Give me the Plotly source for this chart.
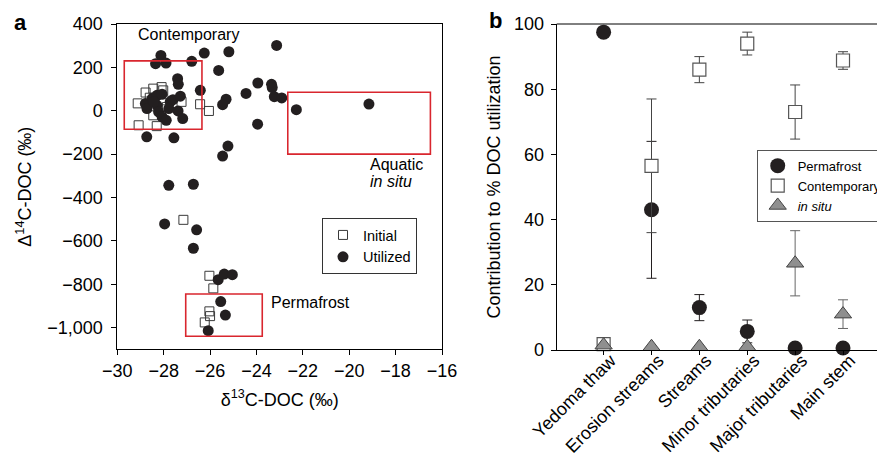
import plotly.graph_objects as go

# ---------------- Panel a data ----------------
util_d13c = [-28.12, -28.35, -27.90, -26.79, -26.25, -25.19, -23.13, -25.63, -27.40, -27.37,
             -26.42, -24.45, -23.94, -23.35, -23.32, -23.23, -22.91, -25.31, -25.46, -22.28,
             -19.15, -23.95, -28.73, -27.56, -25.23, -25.46, -27.78, -26.72, -27.96, -26.58,
             -26.72, -25.65, -25.39, -25.04, -25.54, -25.34, -26.08,
             -28.79, -28.72, -28.50, -28.29, -28.07, -28.29, -28.22, -28.07, -27.89, -27.72,
             -27.60, -27.28, -27.78, -27.38, -27.18, -28.43]
util_D14c = [255, 217, 220, 228, 266, 272, 301, 186, 148, 122,
             94, 80, 128, 122, 107, 65, 59, 53, 28, 5,
             31, -62, -120, -125, -163, -209, -344, -339, -522, -549,
             -634, -779, -753, -756, -880, -942, -1014,
             33, 10, 56, 71, 76, 25, -5, -28, -44, 41,
             51, 67, 10, -1, -36, 41]

init_d13c = [-29.12, -29.08, -28.30, -26.43, -26.05, -28.78, -28.45, -28.09, -28.02, -27.23,
             -28.45, -28.00, -27.86, -28.60, -27.15, -26.03, -25.86, -26.03, -26.00, -26.23]
init_D14c = [34, -67, -71, 30, -1, 84, 102, 109, 94, 41,
             -21, 48, 17, 60, -503, -761, -819, -925, -947, -976]

# source boxes (x0, x1, y0, y1)
box_names = ["Contemporary", "Aquatic", "Permafrost"]
box_x0 = [-29.70, -22.65, -27.05]
box_x1 = [-26.35, -16.50, -23.75]
box_y0 = [-85, -200, -1040]
box_y1 = [230, 85, -845]

xa_ticks = [-30, -28, -26, -24, -22, -20, -18, -16]
xa_text = ["\u221230", "\u221228", "\u221226", "\u221224", "\u221222", "\u221220", "\u221218", "\u221216"]
ya_ticks = [400, 200, 0, -200, -400, -600, -800, -1000]
ya_text = ["400", "200", "0", "\u2212200", "\u2212400", "\u2212600", "\u2212800", "\u22121,000"]

# ---------------- Panel b data ----------------
categories = ["Yedoma thaw", "Erosion streams", "Streams", "Minor tributaries",
              "Major tributaries", "Main stem"]
perma = [97.5, 43.0, 13.0, 5.7, 0.6, 0.6]
perma_err = [0, 21.0, 4.0, 3.5, 0, 0]
contemp = [1.8, 56.5, 86.0, 94.0, 73.0, 88.8]
contemp_err = [0, 20.5, 4.0, 3.5, 8.3, 2.7]
insitu = [1.5, 1.0, 1.0, 1.0, 26.6, 11.0]
insitu_err = [0, 0, 0, 0, 10.0, 4.4]

FONT = "Liberation Sans, Arial, sans-serif"
INK = "#231f20"
RED = "#d9262e"

fig = go.Figure()

# Panel a
fig.add_trace(go.Scatter(
    x=init_d13c, y=init_D14c, mode="markers", name="Initial",
    marker=dict(symbol="square-open", size=9, color="#3a3a3a", line=dict(width=1)),
    xaxis="x", yaxis="y", legend="legend"))
fig.add_trace(go.Scatter(
    x=util_d13c, y=util_D14c, mode="markers", name="Utilized",
    marker=dict(symbol="circle", size=11, color=INK),
    xaxis="x", yaxis="y", legend="legend"))

# Panel b
fig.add_trace(go.Scatter(
    x=categories, y=perma, mode="markers", name="Permafrost",
    marker=dict(symbol="circle", size=15, color=INK),
    error_y=dict(type="data", array=perma_err, color=INK, thickness=1, width=5),
    xaxis="x2", yaxis="y2", legend="legend2", cliponaxis=False))
fig.add_trace(go.Scatter(
    x=categories, y=contemp, mode="markers", name="Contemporary",
    marker=dict(symbol="square", size=13, color="white", line=dict(color="#555555", width=1.2)),
    error_y=dict(type="data", array=contemp_err, color="#444444", thickness=1, width=5),
    xaxis="x2", yaxis="y2", legend="legend2", cliponaxis=False))
fig.add_trace(go.Scatter(
    x=categories, y=insitu, mode="markers", name="<i>in situ</i>",
    marker=dict(symbol="triangle-up", size=15, color="#8f8f8f", line=dict(color="#444444", width=1)),
    error_y=dict(type="data", array=insitu_err, color="#666666", thickness=1, width=5),
    xaxis="x2", yaxis="y2", legend="legend2", cliponaxis=False))

shapes = []
for x0, x1, y0, y1 in zip(box_x0, box_x1, box_y0, box_y1):
    shapes.append(dict(type="rect", xref="x", yref="y", x0=x0, x1=x1, y0=y0, y1=y1,
                       line=dict(color=RED, width=1.6), fillcolor="rgba(0,0,0,0)"))
# top border of panel b (right side cropped)
shapes.append(dict(type="line", xref="x2 domain", yref="y2 domain", x0=0, x1=1, y0=1, y1=1,
                   line=dict(color="black", width=1)))

annotations = [
    dict(text="<b>a</b>", x=20 / 877, y=1 - 22 / 464, xref="paper", yref="paper",
         xanchor="center", yanchor="middle",
         showarrow=False, font=dict(size=22, family=FONT, color="black")),
    dict(text="<b>b</b>", x=495 / 877, y=1 - 21 / 464, xref="paper", yref="paper",
         xanchor="center", yanchor="middle",
         showarrow=False, font=dict(size=22, family=FONT, color="black")),
    dict(text="Contemporary", x=-26.95, y=350, xref="x", yref="y", showarrow=False,
         font=dict(size=16, family=FONT, color="black")),
    dict(text="Aquatic", x=-19.2, y=-250, xref="x", yref="y", showarrow=False, xanchor="left",
         font=dict(size=16, family=FONT, color="black")),
    dict(text="<i>in situ</i>", x=-19.2, y=-327, xref="x", yref="y", showarrow=False, xanchor="left",
         font=dict(size=16, family=FONT, color="black")),
    dict(text="Permafrost", x=-23.45, y=-882, xref="x", yref="y", showarrow=False, xanchor="left",
         font=dict(size=16, family=FONT, color="black")),
]

axis_common = dict(showline=True, linecolor="black", linewidth=1, showgrid=False, zeroline=False,
                   ticks="outside", ticklen=5, tickcolor="black",
                   tickfont=dict(size=18, family=FONT, color="black"))

fig.update_layout(
    width=877, height=464,
    margin=dict(l=0, r=0, t=0, b=0, autoexpand=False),
    paper_bgcolor="white", plot_bgcolor="white",
    font=dict(family=FONT, color="black"),
    xaxis=dict(domain=[117.3 / 877, 442 / 877], range=[-30, -16], anchor="y",
               tickvals=xa_ticks, ticktext=xa_text, mirror=True,
               title=dict(text="\u03b4<sup>13</sup>C-DOC (\u2030)", font=dict(size=18, family=FONT), standoff=13),
               **axis_common),
    yaxis=dict(domain=[1 - 349.3 / 464, 1 - 24 / 464], range=[-1100, 400], anchor="x",
               tickvals=ya_ticks, ticktext=ya_text, mirror=True, ticklabelstandoff=5,
               title=dict(text="\u0394<sup>14</sup>C-DOC (\u2030)", font=dict(size=18, family=FONT), standoff=10),
               **axis_common),
    xaxis2=dict(domain=[556.7 / 877, 1.0], range=[-0.98, 5.71], anchor="y2",
                type="category", tickangle=-45, ticklen=4,
                ticklabelstandoff=-12, ticklabelshift=7,
                showline=True, linecolor="black", linewidth=1, showgrid=False, zeroline=False,
                ticks="outside", tickcolor="black",
                tickfont=dict(size=18, family=FONT, color="black")),
    yaxis2=dict(domain=[1 - 350 / 464, 1 - 24 / 464], range=[0, 100], anchor="x2",
                tickvals=[0, 20, 40, 60, 80, 100], ticklabelstandoff=3,
                title=dict(text="Contribution to % DOC utilization", font=dict(size=18, family=FONT), standoff=8),
                **axis_common),
    legend=dict(x=322 / 877, y=1 - 218 / 464, xanchor="left", yanchor="top",
                bordercolor="#333333", borderwidth=1, bgcolor="white",
                font=dict(size=14.5, family=FONT, color="black"), itemsizing="trace"),
    legend2=dict(x=756.7 / 877, y=1 - 149.7 / 464, xanchor="left", yanchor="top",
                 bordercolor="#555555", borderwidth=1, bgcolor="white",
                 font=dict(size=13, family=FONT, color="black"), itemsizing="trace"),
    shapes=shapes, annotations=annotations,
    showlegend=True,
)

fig.write_html("out.html", config={"displayModeBar": False},
               post_script="document.body.style.margin='0';document.body.style.padding='0';")
